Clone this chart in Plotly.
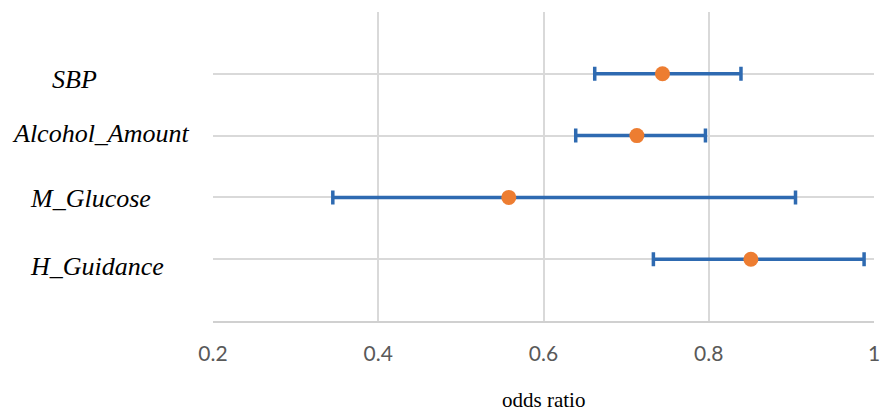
import plotly.graph_objects as go

# Data
factors = ["SBP", "Alcohol_Amount", "M_Glucose", "H_Guidance"]
odds_ratio = [0.744, 0.713, 0.558, 0.851]
ci_lower = [0.662, 0.639, 0.345, 0.733]
ci_upper = [0.839, 0.796, 0.905, 0.988]
row_pos = [4, 3, 2, 1]
x_ticks = [0.2, 0.4, 0.6, 0.8, 1.0]
x_tick_text = ["0.2", "0.4", "0.6", "0.8", "1"]

# label placement (paper x, data y) for the manually placed text boxes
label_x = [-0.209, -0.169, -0.186, -0.175]
label_y = [3.90, 3.04, 1.99, 0.89]

err_plus = [u - m for u, m in zip(ci_upper, odds_ratio)]
err_minus = [m - l for m, l in zip(odds_ratio, ci_lower)]

fig = go.Figure()
fig.add_trace(go.Scatter(
    x=odds_ratio, y=row_pos, mode="markers",
    marker=dict(color="#ED7D31", size=15),
    error_x=dict(type="data", symmetric=False, array=err_plus, arrayminus=err_minus,
                 color="#2E6AB1", thickness=3.5, width=7),
    showlegend=False, hoverinfo="x",
))

for name, lx, ly in zip(factors, label_x, label_y):
    fig.add_annotation(x=lx, y=ly, xref="paper", yref="y", text=name, showarrow=False,
                       xanchor="center", yanchor="middle",
                       font=dict(family="Liberation Serif", size=26, color="#000000",
                                 style="italic"))

# axis title as annotation placed below the tick labels
fig.add_annotation(x=0.5, y=-0.257, xref="paper", yref="paper", text="odds ratio",
                   showarrow=False, xanchor="center", yanchor="middle",
                   font=dict(family="Liberation Serif", size=21, color="#000000"))

fig.update_layout(
    width=880, height=412,
    margin=dict(l=213, r=6, t=12, b=91),
    paper_bgcolor="white", plot_bgcolor="white",
    xaxis=dict(range=[0.2, 1.0], tickvals=x_ticks, ticktext=x_tick_text,
               showgrid=True, gridcolor="#D9D9D9", gridwidth=1.5,
               showline=True, linecolor="#D0D0D0", linewidth=1.5,
               zeroline=False, ticks="", ticklabelstandoff=13, automargin=False,
               ticklabeloverflow="allow",
               tickfont=dict(family="Lato", size=21, color="#595959")),
    yaxis=dict(range=[0, 5], dtick=1, tick0=0, showticklabels=False,
               showgrid=True, gridcolor="#D9D9D9", gridwidth=1.5, automargin=False,
               zeroline=False, showline=False, ticks=""),
)

fig.write_html("out.html", config={"displayModeBar": False},
               post_script="document.body.style.margin='0';document.body.style.overflow='hidden';")
